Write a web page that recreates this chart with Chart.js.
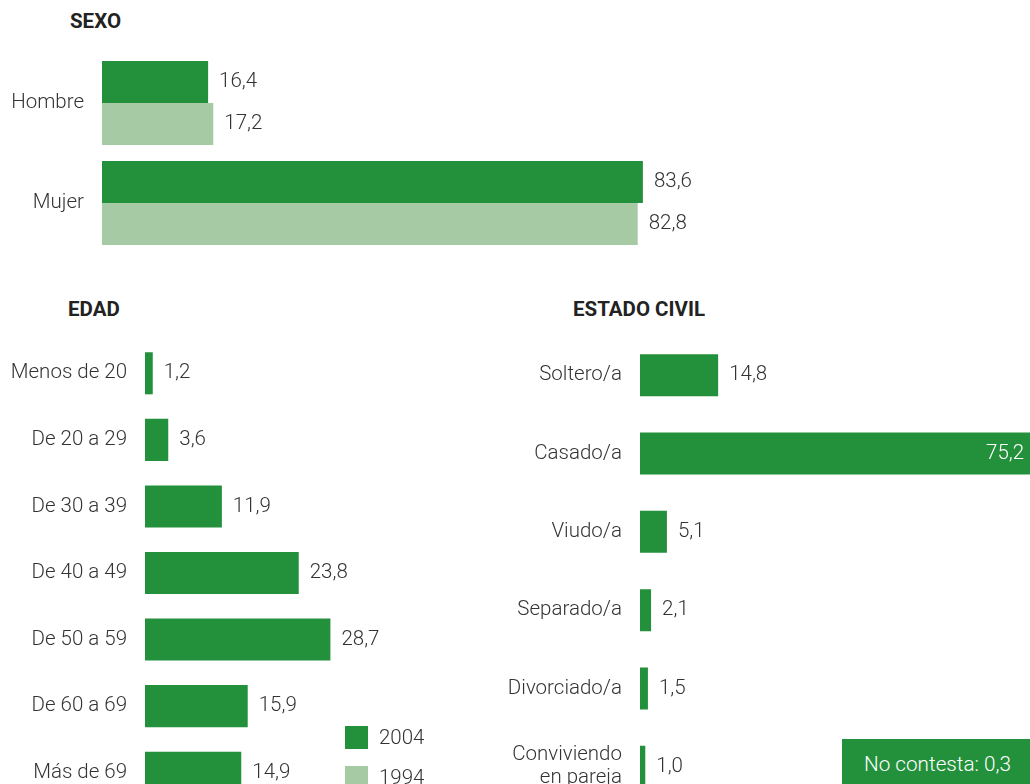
<!DOCTYPE html>
<html lang="es">
<head>
<meta charset="utf-8">
<title>Perfil sociodemográfico</title>
<script src="https://cdn.jsdelivr.net/npm/chart.js@4.4.1/dist/chart.umd.min.js"></script>
<style>
    html, body {
        margin: 0;
        padding: 0;
        width: 1030px;
        height: 784px;
        overflow: hidden;
        background: #ffffff;
        font-family: Roboto, "Open Sans", sans-serif;
        color: #333333;
    }
    .box { position: absolute; }
    .titulo {
        position: absolute;
        font-weight: bold;
        font-size: 20.5px;
        color: #222222;
        line-height: 1;
    }
    .leyenda {
        position: absolute;
        left: 345px;
        font-size: 20.5px;
        font-weight: 300;
        line-height: 23px;
    }
    .leyenda span.cuadro {
        display: inline-block;
        width: 23px;
        height: 23px;
        vertical-align: top;
        margin-right: 11px;
    }
    #noContesta {
        position: absolute;
        left: 842px;
        top: 739px;
        width: 200px;
        height: 60px;
        color: #ffffff;
        font-size: 20.7px;
        font-weight: 300;
        padding: 13px 0 0 22px;
        box-sizing: border-box;
    }
</style>
</head>
<body>

<div class="titulo" style="left:70px; top:11px;">SEXO</div>
<div class="titulo" style="left:68px; top:299px;">EDAD</div>
<div class="titulo" style="left:573px; top:299px;">ESTADO CIVIL</div>

<div class="box" style="left:0; top:0; width:1030px; height:260px;"><canvas id="chartSexo"></canvas></div>
<div class="box" style="left:0; top:330px; width:470px; height:480px;"><canvas id="chartEdad"></canvas></div>
<div class="box" style="left:480px; top:330px; width:600px; height:480px;"><canvas id="chartCivil"></canvas></div>

<div class="leyenda" id="ley2004" style="top:726px;"><span class="cuadro"></span>2004</div>
<div class="leyenda" id="ley1994" style="top:766px;"><span class="cuadro"></span>1994</div>
<div id="noContesta"></div>

<script>
// Datos
const años = ['2004', '1994'];

const sexoLabels = ['Hombre', 'Mujer'];
const sexo2004 = [16.4, 83.6];
const sexo1994 = [17.2, 82.8];

const edadLabels = ['Menos de 20', 'De 20 a 29', 'De 30 a 39', 'De 40 a 49', 'De 50 a 59', 'De 60 a 69', 'Más de 69'];
const edad2004 = [1.2, 3.6, 11.9, 23.8, 28.7, 15.9, 14.9];

const civilLabels = ['Soltero/a', 'Casado/a', 'Viudo/a', 'Separado/a', 'Divorciado/a', ['Conviviendo', 'en pareja']];
const civil2004 = [14.8, 75.2, 5.1, 2.1, 1.5, 1.0];
const noContesta = 0.3;

// Colores
const verde = '#23903b';
const verdeClaro = '#a6cba4';
const gris = '#333333';
const fuente = 'Roboto, "Open Sans", sans-serif';

// Formato con coma decimal
function fmt(v) {
    return v.toFixed(1).replace('.', ',');
}

// Etiquetas de valor al final de cada barra (o dentro si la barra es muy larga)
const etiquetasValor = {
    id: 'etiquetasValor',
    afterDatasetsDraw(chart, args, opts) {
        const ctx = chart.ctx;
        ctx.save();
        ctx.font = '300 20.5px ' + fuente;
        ctx.textBaseline = 'middle';
        chart.data.datasets.forEach((ds, di) => {
            const meta = chart.getDatasetMeta(di);
            meta.data.forEach((bar, i) => {
                const v = ds.data[i];
                if (opts.dentro && v >= opts.dentro) {
                    ctx.fillStyle = '#ffffff';
                    ctx.textAlign = 'right';
                    ctx.fillText(fmt(v), bar.x - 13, bar.y);
                } else {
                    ctx.fillStyle = gris;
                    ctx.textAlign = 'left';
                    ctx.fillText(fmt(v), bar.x + 11, bar.y);
                }
            });
        });
        ctx.restore();
    }
};

// Crea un gráfico de barras horizontales
function barChart(id, labels, datasets, cfg) {
    return new Chart(document.getElementById(id).getContext('2d'), {
        type: 'bar',
        data: { labels: labels, datasets: datasets },
        options: {
            indexAxis: 'y',
            responsive: true,
            maintainAspectRatio: false,
            animation: false,
            layout: { padding: cfg.padding },
            scales: {
                x: {
                    display: false,
                    min: 0,
                    max: cfg.max
                },
                y: {
                    grid: { display: false, drawTicks: false },
                    border: { display: false },
                    ticks: {
                        color: gris,
                        padding: 18,
                        font: { family: fuente, size: 20.5, weight: 300, lineHeight: 1.12 }
                    },
                    afterFit: function(scale) {
                        // ancho fijo del eje y sin margen extra arriba/abajo
                        scale.width = cfg.ejeAncho;
                        scale.paddingTop = 0;
                        scale.paddingBottom = 0;
                    }
                }
            },
            plugins: {
                legend: { display: false },
                tooltip: { enabled: false },
                etiquetasValor: { dentro: cfg.dentro }
            }
        },
        plugins: [etiquetasValor]
    });
}

barChart('chartSexo', sexoLabels, [
    { label: años[0], data: sexo2004, backgroundColor: verde, barPercentage: 1, categoryPercentage: 0.84 },
    { label: años[1], data: sexo1994, backgroundColor: verdeClaro, barPercentage: 1, categoryPercentage: 0.84 }
], { max: 100, ejeAncho: 102, padding: { top: 53, bottom: 7, left: 0, right: 281 } });

barChart('chartEdad', edadLabels, [
    { label: años[0], data: edad2004, backgroundColor: verde, barPercentage: 1, categoryPercentage: 0.632 }
], { max: 50, ejeAncho: 145, padding: { top: 10, bottom: 4, left: 0, right: 2 } });

barChart('chartCivil', civilLabels, [
    { label: años[0], data: civil2004, backgroundColor: verde, barPercentage: 1, categoryPercentage: 0.536 }
], { max: 80, ejeAncho: 160, dentro: 60, padding: { top: 6, bottom: 4, left: 0, right: 17.6 } });

// Leyenda y recuadro "No contesta"
document.querySelector('#ley2004 .cuadro').style.background = verde;
document.querySelector('#ley1994 .cuadro').style.background = verdeClaro;
const nc = document.getElementById('noContesta');
nc.style.background = verde;
nc.textContent = 'No contesta: ' + fmt(noContesta);
</script>
</body>
</html>
